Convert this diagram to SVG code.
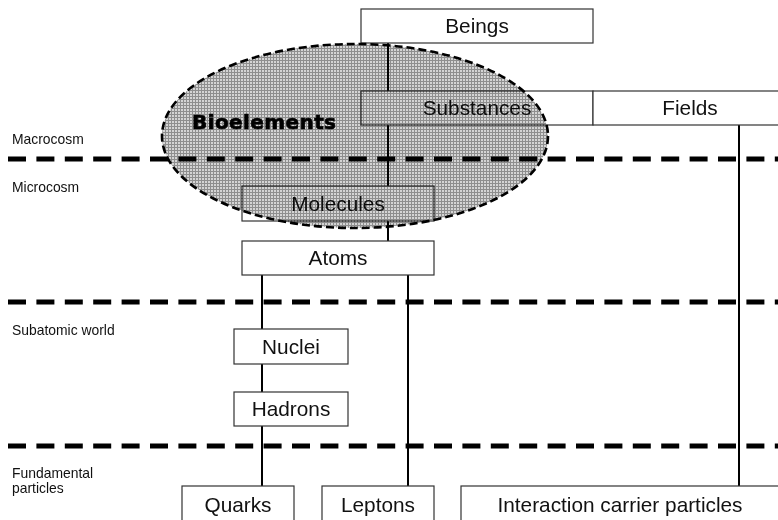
<svg xmlns="http://www.w3.org/2000/svg" width="778" height="520" viewBox="0 0 778 520">
<style>
.box{fill:#fff;stroke:#333;stroke-width:1.2}
.lbl{font-family:"Liberation Sans",Arial,sans-serif;font-size:20.8px;fill:#111;text-anchor:middle}
.side{font-family:"Liberation Sans",Arial,sans-serif;font-size:13.9px;fill:#111}
.conn line{stroke:#000;stroke-width:2}
.sep line{stroke:#000;stroke-width:5;stroke-dasharray:18 10.4}
.bio{mix-blend-mode:multiply}
</style>
<defs>
<pattern id="dots" width="3" height="3" patternUnits="userSpaceOnUse">
<rect x="0" y="0" width="3" height="3" fill="#d4d4d4"/>
<rect x="0" y="0" width="3" height="1" fill="#8e8e8e"/>
<rect x="0" y="1" width="1" height="2" fill="#8e8e8e"/>
</pattern>
</defs>
<rect width="778" height="520" fill="#fff"/>
<g id="side-labels">
<text class="side" x="12" y="144">Macrocosm</text>
<text class="side" x="12" y="192">Microcosm</text>
<text class="side" x="12" y="335">Subatomic world</text>
<text class="side" x="12" y="478">Fundamental</text>
<text class="side" x="12" y="493">particles</text>
</g>
<g class="conn" id="connectors">
<line x1="388" y1="43" x2="388" y2="91"/>
<line x1="388" y1="125" x2="388" y2="186"/>
<line x1="388" y1="221" x2="388" y2="241"/>
<line x1="262" y1="275" x2="262" y2="329"/>
<line x1="262" y1="364" x2="262" y2="392"/>
<line x1="262" y1="426" x2="262" y2="486"/>
<line x1="408" y1="275" x2="408" y2="486"/>
<line x1="739" y1="125" x2="739" y2="486"/>
</g>
<g id="beings"><rect class="box" x="361" y="9" width="232" height="34"/><text class="lbl" x="477" y="33">Beings</text></g>
<g id="substances"><rect class="box" x="361" y="91" width="232" height="34"/><text class="lbl" x="477" y="115">Substances</text></g>
<g id="fields"><rect class="box" x="593" y="91" width="194" height="34"/><text class="lbl" x="690" y="115">Fields</text></g>
<g id="molecules"><rect class="box" x="242" y="186" width="192" height="35"/><text class="lbl" x="338" y="211">Molecules</text></g>
<g id="atoms"><rect class="box" x="242" y="241" width="192" height="34"/><text class="lbl" x="338" y="265">Atoms</text></g>
<g id="nuclei"><rect class="box" x="234" y="329" width="114" height="35"/><text class="lbl" x="291" y="354">Nuclei</text></g>
<g id="hadrons"><rect class="box" x="234" y="392" width="114" height="34"/><text class="lbl" x="291" y="416">Hadrons</text></g>
<g id="quarks"><rect class="box" x="182" y="486" width="112" height="40"/><text class="lbl" x="238" y="512">Quarks</text></g>
<g id="leptons"><rect class="box" x="322" y="486" width="112" height="40"/><text class="lbl" x="378" y="512">Leptons</text></g>
<g id="interaction"><rect class="box" x="461" y="486" width="318" height="40"/><text class="lbl" x="620" y="512">Interaction carrier particles</text></g>
<g class="sep" id="separators">
<line x1="8" y1="159" x2="778" y2="159"/>
<line x1="8" y1="302" x2="778" y2="302"/>
<line x1="8" y1="446" x2="778" y2="446"/>
</g>
<g id="bioelements">
<ellipse class="bio" cx="355" cy="136" rx="193" ry="92" fill="url(#dots)" stroke="#000" stroke-width="2.6" stroke-dasharray="8 4"/>
<text x="192" y="129" font-family="DejaVu Sans,Verdana,sans-serif" font-weight="bold" font-size="20" textLength="144" fill="#000" stroke="#000" stroke-width="0.7">Bioelements</text>
</g>
</svg>
